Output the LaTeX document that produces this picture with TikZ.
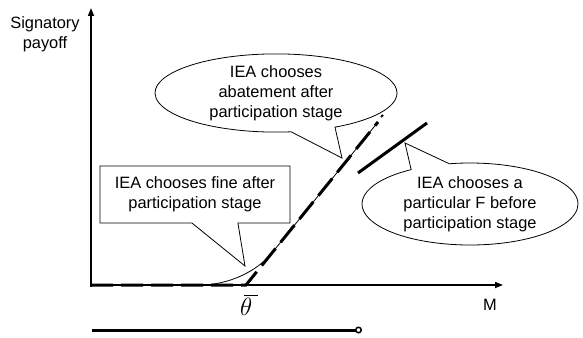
\documentclass[tikz,border=0pt]{standalone}
\usepackage{fontspec}
\setmainfont{Liberation Sans}
\usetikzlibrary{shapes.callouts,arrows.meta,calc}
\begin{document}
\begin{tikzpicture}[x=1pt,y=-1pt,
  lbl/.style={font=\fontsize{16.4}{20}\selectfont, align=center, inner sep=0pt},
  axisline/.style={line width=1.6pt, -{Triangle[length=8pt,width=6pt]}},
  thinline/.style={line width=0.8pt},
  thickdash/.style={line width=3pt, dash pattern=on 22pt off 8pt},
  thickline/.style={line width=3pt},
  ellcall/.style={ellipse callout, draw, fill=white, line width=0.8pt, inner sep=0pt,
     font=\fontsize{16.4}{20}\selectfont, align=center},
  rectcall/.style={rectangle callout, draw, fill=white, line width=0.8pt, inner sep=0pt,
     font=\fontsize{16.4}{20}\selectfont, align=center}]
\useasboundingbox (0,0) rectangle (583,337);
% coordinates
\coordinate (O) at (91,287);
\coordinate (ytop) at (91,8);
\coordinate (xO) at (91,285);
\coordinate (xend) at (503,285);
\coordinate (flat) at (200,285);
\coordinate (kink) at (246,285);
\coordinate (dtop) at (378,122);
\coordinate (dotA) at (381,117);
\coordinate (dotB) at (383,115);
\coordinate (Fa) at (358,173);
\coordinate (Fb) at (427,123);
\coordinate (tipTop) at (342,158);
\coordinate (tipRect) at (245,266);
\coordinate (tipRight) at (405,143);
\coordinate (bl) at (92,330);
\coordinate (br) at (362,330);
% axes
\draw[axisline] (O) -- (ytop);
\draw[axisline] (xO) -- (xend);
% thin curve
\draw[thinline] (xO) -- (flat) .. controls (228,285) and ($(kink)!0.08!(dtop)$) .. ($(kink)!0.2!(dtop)$) -- (dtop);
% thick dashed
\draw[thickdash] (xO) -- (kink) -- (dtop);
\draw[line width=2pt] (dotA) -- (dotB);
% thick solid segment
\draw[thickline] (Fa) -- (Fb);
% bottom line
\draw[line width=3pt, -{Circle[open,length=7pt,line width=1.5pt]}] (bl) -- (br);
% labels
\node[lbl] (sig) at (45,34) {Signatory\\payoff};
\node[lbl] (M) at (490,305) {M};
\node[inner sep=0pt, scale=1.45, transform shape, font=\fontsize{16}{20}\selectfont] (theta) at (251,305) {$\overline{\mkern-3mu\theta\mkern4mu}$};
% callouts
\node[ellcall, minimum width=242pt, minimum height=78pt, callout pointer arc=22,
      callout absolute pointer={(tipTop)}] (cTop) at (276,93)
      {IEA chooses\\abatement after\\participation stage};
\node[rectcall, minimum width=190pt, minimum height=57pt, callout pointer width=46pt,
      callout absolute pointer={(tipRect)}] (cRect) at (195,194.5)
      {IEA chooses fine after\\participation stage};
\node[ellcall, minimum width=216pt, minimum height=82pt, callout pointer arc=22,
      callout absolute pointer={(tipRight)}] (cRight) at (470,204)
      {IEA chooses a\\particular F before\\participation stage};
\end{tikzpicture}
\end{document}
